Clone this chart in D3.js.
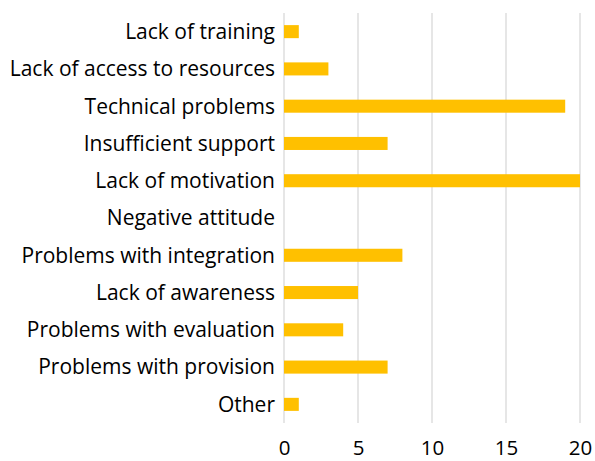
<!DOCTYPE html>
<html>
<head>
<meta charset="utf-8">
<script src="https://cdn.jsdelivr.net/npm/d3@7"></script>
<style>
  body { margin: 0; background: #fff; }
  text { font-family: "Open Sans", sans-serif; fill: #000; }
</style>
</head>
<body>
<div id="chart"></div>
<script>
var categories = [
    "Lack of training",
    "Lack of access to resources",
    "Technical problems",
    "Insufficient support",
    "Lack of motivation",
    "Negative attitude",
    "Problems with integration",
    "Lack of awareness",
    "Problems with evaluation",
    "Problems with provision",
    "Other"
];
var counts = [1, 3, 19, 7, 20, 0, 8, 5, 4, 7, 1];
var tickValues = [0, 5, 10, 15, 20];

var outerWidth = 595;
var outerHeight = 461;
var plotLeft = 284;
var plotRight = 580;
var plotTop = 13;
var plotBottom = 423;

var svg = d3.select("#chart").append("svg")
            .attr("width", outerWidth)
            .attr("height", outerHeight);

var x = d3.scaleLinear()
        .domain([0, 20])
        .range([plotLeft, plotRight]);

var y = d3.scaleBand()
        .domain(categories)
        .range([plotTop, plotBottom])
        .paddingInner(0.65)
        .paddingOuter(0.325);

// vertical gridlines
svg.append("g")
    .selectAll("line")
    .data(tickValues)
    .enter()
    .append("line")
    .attr("x1", function(d){ return x(d); })
    .attr("x2", function(d){ return x(d); })
    .attr("y1", plotTop)
    .attr("y2", plotBottom)
    .attr("stroke", "#d9d9d9")
    .attr("stroke-width", 1.3);

// bars
svg.append("g")
    .selectAll("rect")
    .data(counts)
    .enter()
    .append("rect")
    .attr("x", x(0))
    .attr("y", function(d, i){ return y(categories[i]); })
    .attr("width", function(d){ return x(d) - x(0); })
    .attr("height", y.bandwidth())
    .attr("fill", "#ffc000");

// category labels
var yAxis = svg.append("g")
    .attr("transform", "translate(" + (plotLeft - 9) + ",0)")
    .call(d3.axisLeft(y).tickSize(0).tickPadding(0));
yAxis.select(".domain").remove();
yAxis.selectAll("text")
    .attr("font-size", "21px")
    .attr("dy", "0.35em")
    .style("font-family", "'Open Sans', sans-serif");

// value axis labels
var xAxis = svg.append("g")
    .attr("transform", "translate(0," + plotBottom + ")")
    .call(d3.axisBottom(x).tickValues(tickValues).tickSize(0).tickPadding(0));
xAxis.select(".domain").remove();
xAxis.selectAll("text")
    .attr("y", 32)
    .attr("dy", 0)
    .attr("font-size", "20.5px")
    .style("font-family", "'Open Sans', sans-serif");
</script>
</body>
</html>
